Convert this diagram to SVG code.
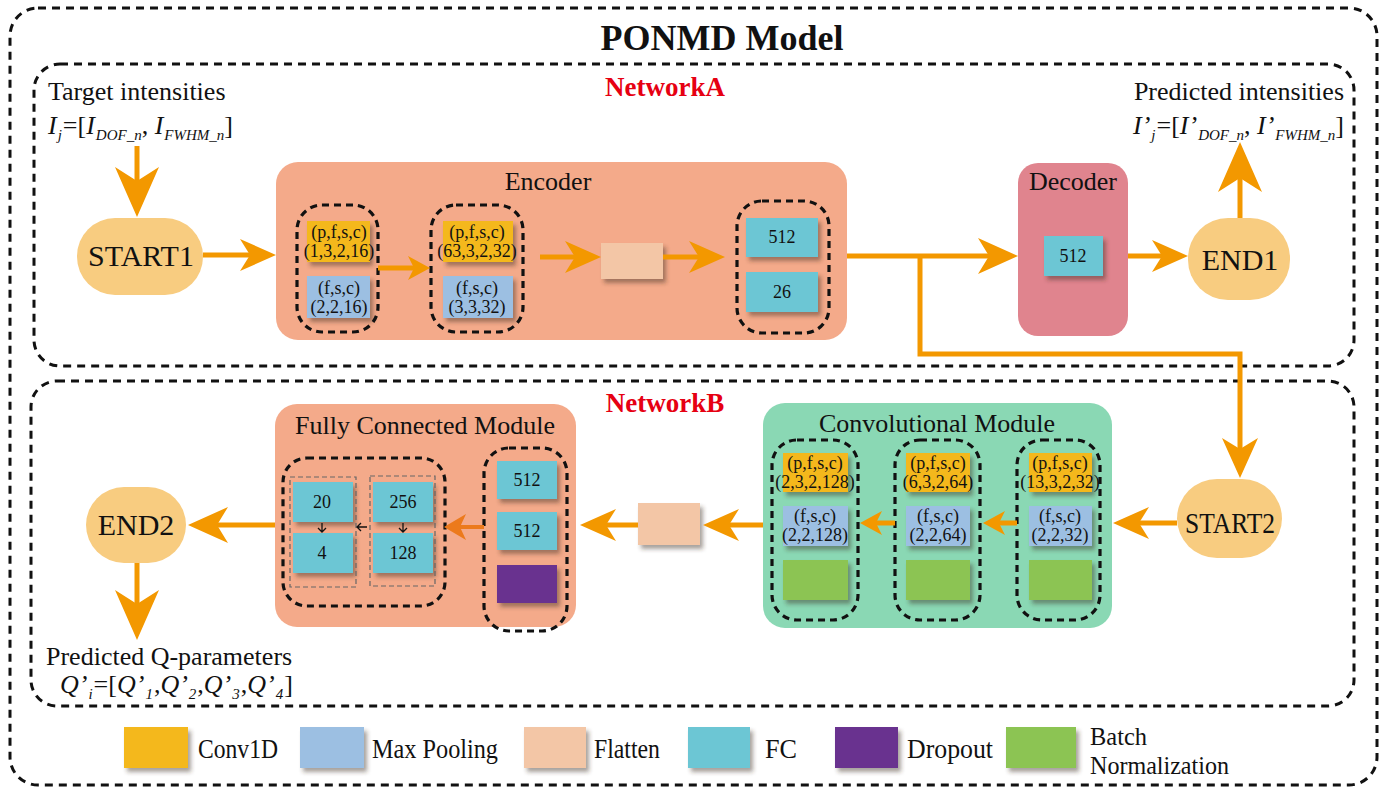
<svg xmlns="http://www.w3.org/2000/svg" width="1393" height="789" viewBox="0 0 1393 789">
  <style>
    text { font-family: "Liberation Serif", "Times New Roman", serif; fill: #111; }
    .title { font-size: 36px; font-weight: bold; text-anchor: middle; }
    .net { font-size: 27px; font-weight: bold; fill: #e60012; text-anchor: middle; }
    .lab { font-size: 26px; }
    .mod { font-size: 26px; text-anchor: middle; }
    .term { font-size: 30px; text-anchor: middle; }
    .cell { font-size: 18px; text-anchor: middle; }
    .leg { font-size: 28px; }
    .leg2 { font-size: 25px; }
    .it { font-style: italic; }
    .sub { font-style: italic; font-size: 15px; }
    .frame { fill: none; stroke: #111; stroke-width: 3; stroke-dasharray: 8 6; }
    .grp { fill: none; stroke: #111; stroke-width: 3.2; stroke-dasharray: 7 5; }
    .thin { fill: none; stroke: #666; stroke-width: 1.2; stroke-dasharray: 5 3; }
    .pill { fill: #f8cc80; }
    .conv { fill: #f4b81e; }
    .pool { fill: #9cbfe2; }
    .flat { fill: #f3c6a6; }
    .fc { fill: #6cc6d4; }
    .drop { fill: #69318f; }
    .bn { fill: #8cc453; }
    .wire { fill: none; stroke: #f39800; stroke-width: 5; }
    .wire2 { fill: none; stroke: #ec7a1c; stroke-width: 4; }
    .tiny { fill: none; stroke: #111; stroke-width: 1.3; }
  </style>
  <defs>
    <filter id="sh" x="-20%" y="-20%" width="150%" height="160%">
      <feDropShadow dx="3" dy="4" stdDeviation="2.2" flood-color="#3a2a20" flood-opacity="0.45"/>
    </filter>
    <!-- notched arrowheads, tip sits 10px beyond the path end -->
    <marker id="hXL" markerUnits="userSpaceOnUse" markerWidth="50" markerHeight="44" refX="40" refY="22" orient="auto">
      <path d="M0,0 L50,22 L0,44 L14,22 Z" fill="#f39800"/>
    </marker>
    <marker id="hL" markerUnits="userSpaceOnUse" markerWidth="40" markerHeight="36" refX="30" refY="18" orient="auto">
      <path d="M0,0 L40,18 L0,36 L11,18 Z" fill="#f39800"/>
    </marker>
    <marker id="hM" markerUnits="userSpaceOnUse" markerWidth="36" markerHeight="32" refX="26" refY="16" orient="auto">
      <path d="M0,0 L36,16 L0,32 L10,16 Z" fill="#f39800"/>
    </marker>
    <marker id="hS" markerUnits="userSpaceOnUse" markerWidth="22" markerHeight="24" refX="12" refY="12" orient="auto">
      <path d="M0,0 L22,12 L0,24 L6,12 Z" fill="#f39800"/>
    </marker>
    <marker id="hS2" markerUnits="userSpaceOnUse" markerWidth="22" markerHeight="26" refX="12" refY="13" orient="auto">
      <path d="M0,0 L22,13 L0,26 L6,13 Z" fill="#ec7a1c"/>
    </marker>
  </defs>

  <rect width="1393" height="789" fill="#ffffff"/>

  <!-- frames -->
  <rect class="frame" x="10" y="8" width="1367" height="777" rx="28"/>
  <rect class="frame" x="34" y="64" width="1320" height="302" rx="26"/>
  <rect class="frame" x="31" y="381" width="1323" height="325" rx="26"/>

  <text class="title" x="722" y="50">PONMD Model</text>
  <text class="net" x="665" y="96">NetworkA</text>
  <text class="net" x="665" y="412">NetworkB</text>

  <!-- input / output labels -->
  <g id="target-label">
    <text class="lab" x="48" y="100">Target intensities</text>
    <text class="lab" x="48" y="134"><tspan class="it">I</tspan><tspan class="sub" dx="1" dy="6">j</tspan><tspan dx="1" dy="-6">=[</tspan><tspan class="it">I</tspan><tspan class="sub" dx="1" dy="6">DOF_n</tspan><tspan dy="-6">, </tspan><tspan class="it">I</tspan><tspan class="sub" dx="1" dy="6">FWHM_n</tspan><tspan dy="-6">]</tspan></text>
  </g>
  <g id="predicted-label">
    <text class="lab" x="1344" y="100" text-anchor="end">Predicted intensities</text>
    <text class="lab" x="1344" y="134" text-anchor="end"><tspan class="it">I’</tspan><tspan class="sub" dx="1" dy="6">j</tspan><tspan dx="1" dy="-6">=[</tspan><tspan class="it">I’</tspan><tspan class="sub" dx="1" dy="6">DOF_n</tspan><tspan dy="-6">, </tspan><tspan class="it">I’</tspan><tspan class="sub" dx="1" dy="6">FWHM_n</tspan><tspan dy="-6">]</tspan></text>
  </g>
  <g id="q-label">
    <text class="lab" x="46" y="665">Predicted Q-parameters</text>
    <text class="lab" x="60" y="693"><tspan class="it">Q’</tspan><tspan class="sub" dx="1" dy="6">i</tspan><tspan dx="1" dy="-6">=[</tspan><tspan class="it">Q’</tspan><tspan class="sub" dx="1" dy="6">1</tspan><tspan dx="1" dy="-6">,</tspan><tspan class="it">Q’</tspan><tspan class="sub" dx="1" dy="6">2</tspan><tspan dx="1" dy="-6">,</tspan><tspan class="it">Q’</tspan><tspan class="sub" dx="1" dy="6">3</tspan><tspan dx="1" dy="-6">,</tspan><tspan class="it">Q’</tspan><tspan class="sub" dx="1" dy="6">4</tspan><tspan dx="1" dy="-6">]</tspan></text>
  </g>

  <!-- NetworkA -->
  <g id="start1">
    <rect class="pill" x="77" y="218" width="126" height="77" rx="38"/>
    <text class="term" x="141" y="266">START1</text>
  </g>

  <g id="encoder">
    <rect x="276" y="162" width="571" height="178" rx="22" fill="#f4aa8a"/>
    <text class="mod" x="548" y="190">Encoder</text>
    <g id="enc-block1">
      <rect class="conv" x="307" y="221" width="63" height="41" filter="url(#sh)"/>
      <text class="cell" x="339" y="238">(p,f,s,c)</text>
      <text class="cell" x="339" y="257">(1,3,2,16)</text>
      <rect class="pool" x="307" y="276" width="63" height="42" filter="url(#sh)"/>
      <text class="cell" x="339" y="294">(f,s,c)</text>
      <text class="cell" x="339" y="313">(2,2,16)</text>
      <rect class="grp" x="297" y="205" width="81" height="127" rx="25"/>
    </g>
    <g id="enc-block2">
      <rect class="conv" x="443" y="221" width="70" height="41" filter="url(#sh)"/>
      <text class="cell" x="477" y="238">(p,f,s,c)</text>
      <text class="cell" x="477" y="257">(63,3,2,32)</text>
      <rect class="pool" x="443" y="276" width="70" height="42" filter="url(#sh)"/>
      <text class="cell" x="477" y="294">(f,s,c)</text>
      <text class="cell" x="477" y="313">(3,3,32)</text>
      <rect class="grp" x="431" y="205" width="92" height="127" rx="25"/>
    </g>
    <g id="enc-flatten">
      <rect class="flat" x="601" y="243" width="62" height="36" filter="url(#sh)"/>
    </g>
    <g id="enc-fc">
      <rect class="fc" x="746" y="218" width="72" height="39" filter="url(#sh)"/>
      <text class="cell" x="782" y="243">512</text>
      <rect class="fc" x="746" y="272" width="72" height="40" filter="url(#sh)"/>
      <text class="cell" x="782" y="298">26</text>
      <rect class="grp" x="737" y="201" width="92" height="132" rx="25"/>
    </g>
  </g>

  <g id="decoder">
    <rect x="1018" y="163" width="110" height="173" rx="20" fill="#e0848e"/>
    <text class="mod" x="1073" y="190">Decoder</text>
    <rect class="fc" x="1044" y="236" width="59" height="40" filter="url(#sh)"/>
    <text class="cell" x="1073" y="262">512</text>
  </g>

  <g id="end1">
    <rect class="pill" x="1188" y="218" width="102" height="82" rx="40"/>
    <text class="term" x="1240" y="270">END1</text>
  </g>

  <!-- NetworkB -->
  <g id="start2">
    <rect class="pill" x="1177" y="479" width="105" height="79" rx="40"/>
    <text class="term" x="1230" y="533" textLength="90" lengthAdjust="spacingAndGlyphs">START2</text>
  </g>

  <g id="conv-module">
    <rect x="763" y="403" width="349" height="225" rx="22" fill="#8ad8b4"/>
    <text class="mod" x="937" y="432">Convolutional Module</text>
    <g id="conv-block1">
      <rect class="conv" x="783" y="453" width="65" height="39" filter="url(#sh)"/>
      <text class="cell" x="815" y="469">(p,f,s,c)</text>
      <text class="cell" x="815" y="488">(2,3,2,128)</text>
      <rect class="pool" x="783" y="506" width="65" height="40" filter="url(#sh)"/>
      <text class="cell" x="815" y="522">(f,s,c)</text>
      <text class="cell" x="815" y="541">(2,2,128)</text>
      <rect class="bn" x="783" y="560" width="65" height="40" filter="url(#sh)"/>
      <rect class="grp" x="772" y="440" width="86" height="180" rx="25"/>
    </g>
    <g id="conv-block2">
      <rect class="conv" x="906" y="453" width="64" height="39" filter="url(#sh)"/>
      <text class="cell" x="938" y="469">(p,f,s,c)</text>
      <text class="cell" x="938" y="488">(6,3,2,64)</text>
      <rect class="pool" x="906" y="506" width="64" height="40" filter="url(#sh)"/>
      <text class="cell" x="938" y="522">(f,s,c)</text>
      <text class="cell" x="938" y="541">(2,2,64)</text>
      <rect class="bn" x="906" y="560" width="64" height="40" filter="url(#sh)"/>
      <rect class="grp" x="895" y="440" width="85" height="180" rx="25"/>
    </g>
    <g id="conv-block3">
      <rect class="conv" x="1029" y="453" width="63" height="39" filter="url(#sh)"/>
      <text class="cell" x="1060" y="469">(p,f,s,c)</text>
      <text class="cell" x="1060" y="488">(13,3,2,32)</text>
      <rect class="pool" x="1029" y="506" width="63" height="40" filter="url(#sh)"/>
      <text class="cell" x="1060" y="522">(f,s,c)</text>
      <text class="cell" x="1060" y="541">(2,2,32)</text>
      <rect class="bn" x="1029" y="560" width="63" height="40" filter="url(#sh)"/>
      <rect class="grp" x="1017" y="440" width="83" height="180" rx="25"/>
    </g>
  </g>

  <g id="flatten-b">
    <rect class="flat" x="638" y="503" width="62" height="42" filter="url(#sh)"/>
  </g>

  <g id="fc-module">
    <rect x="275" y="404" width="301" height="223" rx="22" fill="#f4aa8a"/>
    <text class="mod" x="425" y="434">Fully Connected Module</text>
    <g id="fc-head">
      <rect class="fc" x="293" y="482" width="60" height="40" filter="url(#sh)"/>
      <text class="cell" x="322" y="508">20</text>
      <rect class="fc" x="293" y="533" width="60" height="40" filter="url(#sh)"/>
      <text class="cell" x="322" y="559">4</text>
      <rect class="fc" x="373" y="482" width="60" height="40" filter="url(#sh)"/>
      <text class="cell" x="403" y="508">256</text>
      <rect class="fc" x="373" y="533" width="60" height="40" filter="url(#sh)"/>
      <text class="cell" x="403" y="559">128</text>
      <rect class="thin" x="290" y="477" width="66" height="110"/>
      <rect class="thin" x="370" y="476" width="65" height="110"/>
      <path class="tiny" d="M322,523 V532 M318,528 L322,532 L326,528"/>
      <path class="tiny" d="M403,523 V532 M399,528 L403,532 L407,528"/>
      <path class="tiny" d="M367,527 H357 M361,523 L357,527 L361,531"/>
      <rect class="grp" x="283" y="458" width="162" height="148" rx="24"/>
    </g>
    <g id="fc-stack">
      <rect class="fc" x="497" y="461" width="60" height="38" filter="url(#sh)"/>
      <text class="cell" x="527" y="486">512</text>
      <rect class="fc" x="497" y="512" width="60" height="38" filter="url(#sh)"/>
      <text class="cell" x="527" y="537">512</text>
      <rect class="drop" x="497" y="565" width="60" height="38" filter="url(#sh)"/>
      <rect class="grp" x="484" y="448" width="83" height="183" rx="25"/>
    </g>
  </g>

  <g id="end2">
    <rect class="pill" x="86" y="487" width="100" height="76" rx="38"/>
    <text class="term" x="136" y="535">END2</text>
  </g>

  <!-- connectors -->
  <g id="connectors">
    <path class="wire" d="M137,146 V207" marker-end="url(#hXL)"/>
    <path class="wire" d="M203,255 H266" marker-end="url(#hM)"/>
    <path class="wire" d="M378,268 H420" marker-end="url(#hS)" stroke-width="4"/>
    <path class="wire" d="M540,257 H591" marker-end="url(#hM)"/>
    <path class="wire" d="M663,257 H715" marker-end="url(#hM)"/>
    <path class="wire" d="M847,256 H1008" marker-end="url(#hL)"/>
    <path class="wire" d="M920,256 V354 H1240 V468" marker-end="url(#hL)"/>
    <path class="wire" d="M1128,256 H1178" marker-end="url(#hM)"/>
    <path class="wire" d="M1240,218 V152" marker-end="url(#hXL)"/>
    <path class="wire" d="M1177,523 H1123" marker-end="url(#hM)"/>
    <path class="wire" d="M1017,523 H993" marker-end="url(#hS)" stroke-width="4"/>
    <path class="wire" d="M895,523 H870" marker-end="url(#hS)" stroke-width="4"/>
    <path class="wire" d="M763,525 H713" marker-end="url(#hM)"/>
    <path class="wire" d="M638,525 H590" marker-end="url(#hM)"/>
    <path class="wire2" d="M484,527 H454" marker-end="url(#hS2)"/>
    <path class="wire" d="M275,525 H198" marker-end="url(#hL)"/>
    <path class="wire" d="M137,563 V630" marker-end="url(#hXL)"/>
  </g>

  <!-- legend -->
  <g id="legend">
    <rect class="conv" x="124" y="727" width="64" height="41" filter="url(#sh)"/>
    <text class="leg" x="198" y="758" textLength="80" lengthAdjust="spacingAndGlyphs">Conv1D</text>
    <rect class="pool" x="300" y="727" width="64" height="41" filter="url(#sh)"/>
    <text class="leg" x="372" y="758" textLength="126" lengthAdjust="spacingAndGlyphs">Max Pooling</text>
    <rect class="flat" x="524" y="727" width="62" height="41" filter="url(#sh)"/>
    <text class="leg" x="594" y="758" textLength="66" lengthAdjust="spacingAndGlyphs">Flatten</text>
    <rect class="fc" x="688" y="727" width="62" height="41" filter="url(#sh)"/>
    <text class="leg" x="765" y="758" textLength="32" lengthAdjust="spacingAndGlyphs">FC</text>
    <rect class="drop" x="835" y="727" width="63" height="41" filter="url(#sh)"/>
    <text class="leg" x="907" y="758" textLength="86" lengthAdjust="spacingAndGlyphs">Dropout</text>
    <rect class="bn" x="1006" y="727" width="70" height="41" filter="url(#sh)"/>
    <text class="leg2" x="1090" y="745" textLength="57" lengthAdjust="spacingAndGlyphs">Batch</text>
    <text class="leg2" x="1090" y="774" textLength="139" lengthAdjust="spacingAndGlyphs">Normalization</text>
  </g>
</svg>
